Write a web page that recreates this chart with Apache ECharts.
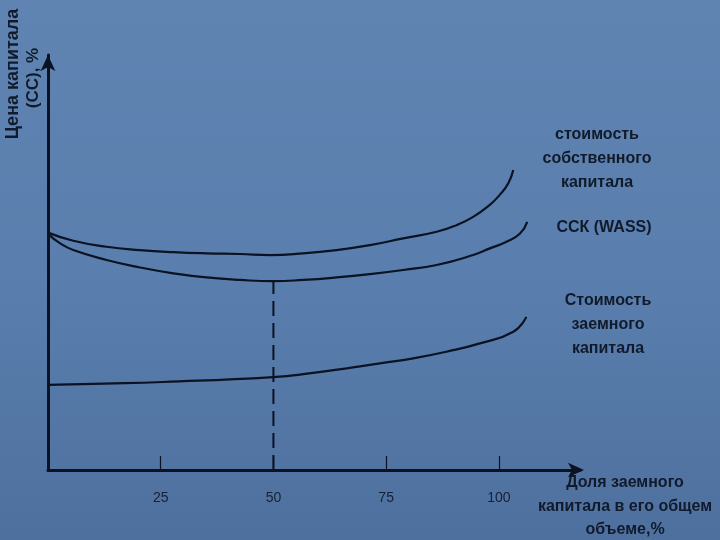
<!DOCTYPE html>
<html><head><meta charset="utf-8">
<script src="https://cdn.jsdelivr.net/npm/echarts@6/dist/echarts.min.js"></script>
<style>html,body{margin:0;padding:0;}#c{width:720px;height:540px;background:linear-gradient(180deg,#5f84b2 0%,#5a7fae 50%,#4e709e 100%);}</style>
</head><body><div id="c"></div>
<script>
// Data (share of debt capital, %; cost of capital, relative units)
const equityX = [0, 5.6, 13.0, 20.4, 27.8, 35.2, 42.6, 49.2, 56.6, 64.0, 71.4, 78.8, 86.2, 90.6, 94.3, 98.0, 100.2, 102.1, 103.2];
const equityY = [57.2, 55.25, 53.8, 53.0, 52.5, 52.2, 52.05, 51.8, 52.2, 53.0, 54.2, 55.8, 57.4, 59.0, 61.0, 63.9, 66.3, 69.1, 72.3];
const waccX = [0, 2.7, 5.6, 13.0, 20.4, 27.8, 35.2, 42.6, 50.0, 56.6, 64.0, 71.4, 78.8, 86.2, 94.3, 98.0, 101.7, 104.7, 106.3];
const waccY = [56.9, 54.6, 53.0, 50.6, 48.8, 47.4, 46.4, 45.8, 45.5, 45.8, 46.4, 47.2, 48.2, 49.4, 51.8, 53.4, 55.0, 57.0, 59.8];
const debtX = [0, 12.5, 25.5, 49.9, 58.8, 66.2, 73.6, 81.0, 88.4, 95.8, 103.2, 106.1];
const debtY = [20.5, 20.8, 21.2, 22.4, 23.4, 24.5, 25.7, 26.9, 28.5, 30.5, 33.3, 36.9];
const optimumX = [50, 50];
const optimumY = [0, 45.5];
const tickLabels = [25, 50, 75, 100];
const labelEquity = 'стоимость\nсобственного\nкапитала';
const labelWacc = 'ССК (WASS)';
const labelDebt = 'Стоимость\nзаемного\nкапитала';
const xName = 'Доля заемного\nкапитала в его общем\nобъеме,%';
const yName1 = 'Цена капитала';
const yName2 = '(СС), %';

const zip = (xs, ys) => xs.map((x, i) => [x, ys[i]]);
const chart = echarts.init(document.getElementById('c'), null, {renderer: 'canvas'});
const lineColor = '#0b1222';
const txt = '#111a2a';
const font = 'bold 16px "Liberation Sans", Arial';
const lbl = (text, x, y) => ({type: 'text', x, y, style: {text, fill: txt, font, align: 'center', verticalAlign: 'top', lineHeight: 24}});
const curve = (xs, ys) => ({type: 'line', data: zip(xs, ys), smooth: 0.5, showSymbol: false, lineStyle: {color: lineColor, width: 2.2}});
chart.setOption({
  backgroundColor: 'transparent',
  animation: false,
  grid: {left: 48, right: 140, top: 55, bottom: 70},
  xAxis: {
    type: 'value', min: 0, max: 118,
    axisLine: {lineStyle: {color: lineColor, width: 3}, symbol: ['none', 'arrow'], symbolSize: [11, 16], symbolOffset: [0, 4]},
    axisTick: {show: true, inside: true, length: 14, lineStyle: {color: lineColor, width: 1.2}, customValues: tickLabels},
    axisLabel: {color: '#162032', fontSize: 14, margin: 21, fontFamily: '"Liberation Sans", Arial', customValues: tickLabels},
    splitLine: {show: false}
  },
  yAxis: {
    type: 'value', min: 0, max: 100,
    axisLine: {show: true, lineStyle: {color: lineColor, width: 3}, symbol: ['none', 'arrow'], symbolSize: [11, 16]},
    axisTick: {show: false}, axisLabel: {show: false}, splitLine: {show: false}
  },
  series: [
    curve(equityX, equityY),
    curve(waccX, waccY),
    curve(debtX, debtY),
    {type: 'line', data: zip(optimumX, optimumY), showSymbol: false, lineStyle: {color: lineColor, width: 2, type: [15, 7]}}
  ],
  graphic: [
    lbl(labelEquity, 597, 123),
    lbl(labelWacc, 604, 216),
    lbl(labelDebt, 608, 289),
    {type: 'text', x: 625, y: 471, style: {text: xName, fill: txt, font, align: 'center', verticalAlign: 'top', lineHeight: 23.5}},
    {type: 'text', x: 13, y: 74, rotation: Math.PI / 2, style: {text: yName1, fill: txt, font: 'bold 18px "Liberation Sans", Arial', align: 'center', verticalAlign: 'middle'}},
    {type: 'text', x: 33, y: 78, rotation: Math.PI / 2, style: {text: yName2, fill: txt, font: 'bold 17px "Liberation Sans", Arial', align: 'center', verticalAlign: 'middle'}}
  ]
});
</script></body></html>
